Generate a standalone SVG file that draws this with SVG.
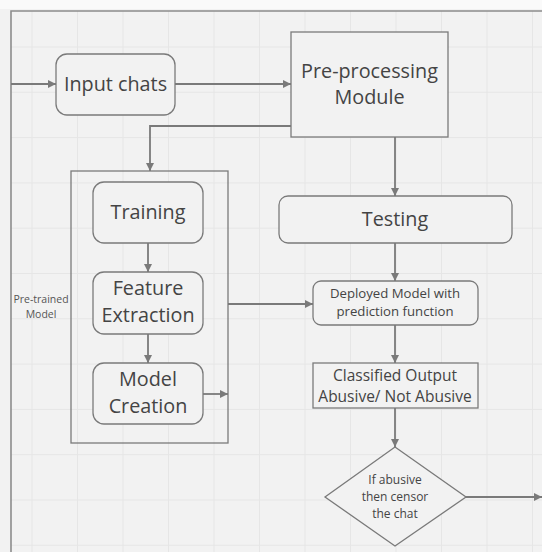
<svg xmlns="http://www.w3.org/2000/svg" width="542" height="552" viewBox="0 0 542 552">
<defs>
<marker id="ah" viewBox="0 0 10 10" refX="10" refY="5" markerWidth="8" markerHeight="8" markerUnits="userSpaceOnUse" orient="auto">
<path d="M0,0 L10,5 L0,10 z" fill="#7a7a7a"/>
</marker>
<style>
.bg{fill:#f2f2f2}
.grid line{stroke:#e6e6e6;stroke-width:1}
.frame{fill:none;stroke:#8c8c8c;stroke-width:1.6}
.box{fill:#f2f2f2;stroke:#7a7a7a;stroke-width:1.3}
.con{fill:none;stroke:#7a7a7a;stroke-width:1.8}
.arr{marker-end:url(#ah)}
text{font-family:"Open Sans","Noto Sans","DejaVu Sans",sans-serif;fill:#444;text-anchor:middle}
.t19{font-size:19.8px}
.t17{font-size:15.5px}
.t13{font-size:13.2px}
.t12{font-size:12px}
.t10{font-size:10.5px;fill:#555}
</style>
</defs>
<rect x="0" y="0" width="542" height="552" fill="#fafafa"/>
<rect class="bg" x="0" y="9" width="542" height="543"/>
<g class="grid">
<line x1="32" y1="11" x2="32" y2="552"/><line x1="77.5" y1="11" x2="77.5" y2="552"/><line x1="123" y1="11" x2="123" y2="552"/><line x1="168.5" y1="11" x2="168.5" y2="552"/><line x1="214" y1="11" x2="214" y2="552"/><line x1="259.5" y1="11" x2="259.5" y2="552"/><line x1="305" y1="11" x2="305" y2="552"/><line x1="350.5" y1="11" x2="350.5" y2="552"/><line x1="396" y1="11" x2="396" y2="552"/><line x1="441.5" y1="11" x2="441.5" y2="552"/><line x1="487" y1="11" x2="487" y2="552"/><line x1="532.5" y1="11" x2="532.5" y2="552"/>
<line x1="11" y1="47" x2="542" y2="47"/><line x1="11" y1="92.3" x2="542" y2="92.3"/><line x1="11" y1="137.6" x2="542" y2="137.6"/><line x1="11" y1="182.9" x2="542" y2="182.9"/><line x1="11" y1="228.2" x2="542" y2="228.2"/><line x1="11" y1="273.5" x2="542" y2="273.5"/><line x1="11" y1="318.8" x2="542" y2="318.8"/><line x1="11" y1="364.1" x2="542" y2="364.1"/><line x1="11" y1="409.4" x2="542" y2="409.4"/><line x1="11" y1="454.7" x2="542" y2="454.7"/><line x1="11" y1="500" x2="542" y2="500"/><line x1="11" y1="545.3" x2="542" y2="545.3"/>
</g>
<path class="frame" d="M11,552 L11,11 L542,11"/>
<g id="connectors">
<line class="con arr" x1="11" y1="84" x2="56" y2="84"/>
<line class="con arr" x1="175" y1="84" x2="291" y2="84"/>
<path class="con arr" d="M291,126 L150,126 L150,171"/>
<line class="con arr" x1="395" y1="137" x2="395" y2="196"/>
<line class="con arr" x1="395" y1="243" x2="395" y2="281"/>
<line class="con arr" x1="148" y1="243" x2="148" y2="272"/>
<line class="con arr" x1="148" y1="334" x2="148" y2="363"/>
<line class="con arr" x1="203" y1="394" x2="228" y2="394"/>
<line class="con arr" x1="228" y1="304" x2="313" y2="304"/>
<line class="con arr" x1="395" y1="325" x2="395" y2="363"/>
<line class="con arr" x1="395" y1="408" x2="395" y2="447"/>
<line class="con arr" x1="466" y1="497" x2="542" y2="497"/>
</g>
<g id="pretrained">
<rect class="box" x="71" y="171" width="157" height="272" style="fill:none"/>
<text class="t10" x="41" y="303">Pre-trained</text>
<text class="t10" x="41" y="318">Model</text>
</g>
<g id="input-chats">
<rect class="box" x="56" y="54" width="119" height="61" rx="11"/>
<text class="t19" x="115.5" y="91">Input chats</text>
</g>
<g id="preprocessing">
<rect class="box" x="291" y="32" width="157" height="105"/>
<text class="t19" x="369.5" y="78">Pre-processing</text>
<text class="t19" x="369.5" y="104">Module</text>
</g>
<g id="training">
<rect class="box" x="93" y="182" width="110" height="61" rx="11"/>
<text class="t19" x="148" y="219">Training</text>
</g>
<g id="feature-extraction">
<rect class="box" x="93" y="272" width="110" height="62" rx="11"/>
<text class="t19" x="148" y="295">Feature</text>
<text class="t19" x="148" y="322">Extraction</text>
</g>
<g id="model-creation">
<rect class="box" x="93" y="363" width="110" height="61" rx="11"/>
<text class="t19" x="148" y="386">Model</text>
<text class="t19" x="148" y="413">Creation</text>
</g>
<g id="testing">
<rect class="box" x="279" y="196" width="233" height="47" rx="9"/>
<text class="t19" x="395" y="226">Testing</text>
</g>
<g id="deployed">
<rect class="box" x="313" y="281" width="165" height="44" rx="8"/>
<text class="t13" x="395" y="298">Deployed Model with</text>
<text class="t13" x="395" y="316">prediction function</text>
</g>
<g id="classified">
<rect class="box" x="313" y="363" width="165" height="45"/>
<text class="t17" x="395" y="381">Classified Output</text>
<text class="t17" x="395" y="402">Abusive/ Not Abusive</text>
</g>
<g id="decision">
<path class="box" d="M395,447 L466,497 L395,546 L325,497 z"/>
<text class="t12" x="395" y="484">If abusive</text>
<text class="t12" x="395" y="501">then censor</text>
<text class="t12" x="395" y="518">the chat</text>
</g>
</svg>
